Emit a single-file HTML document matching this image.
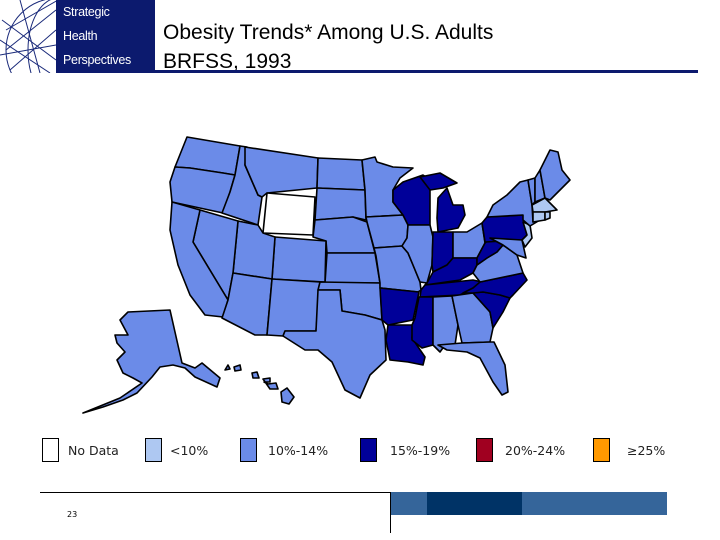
<!DOCTYPE html>
<html><head><meta charset="utf-8"><style>
body{margin:0;width:720px;height:540px;background:#fff;overflow:hidden;position:relative;font-family:"Liberation Sans",sans-serif}
.t{position:absolute;left:163px;font-size:21px;color:#000;line-height:1}
.lg{position:absolute;font-family:"DejaVu Sans",sans-serif;font-size:12.5px;color:#222;top:443px}
.bx{position:absolute;top:438px;width:17px;height:24px;border:1px solid #000;box-sizing:border-box}
</style></head><body>
<div style="position:absolute;left:0;top:0;width:155px;height:73px">
<svg width="56" height="73" style="position:absolute;left:0;top:0">
<g fill="none" stroke="#1a2a7a" stroke-width="1"><circle cx="58" cy="50" r="52"/><ellipse cx="58" cy="50" rx="30" ry="52"/><path d="M6 30 L58 0 M6 50 L56 10 M10 70 L56 30 M0 40 L50 73 M2 20 L56 60 M20 0 L40 73 M0 55 L56 45"/></g></svg>
<div style="position:absolute;left:56px;top:0;width:99px;height:73px;background:#0c1a6e;color:#fff;font-size:12.5px;line-height:24px;padding-left:7px;box-sizing:border-box;letter-spacing:-0.3px">Strategic<br>Health<br>Perspectives</div>
</div>
<div class="t" style="top:22px">Obesity Trends* Among U.S. Adults</div>
<div class="t" style="top:51px">BRFSS, 1993</div>
<div style="position:absolute;left:155px;top:70px;width:543px;height:3px;background:#0c1a6e"></div>

<svg id="map" width="720" height="540" style="position:absolute;left:0;top:0"></svg>

<div class="bx" style="left:42px;background:#fff"></div>
<div class="lg" style="left:68px">No Data</div>
<div class="bx" style="left:145px;background:#aec8f2"></div>
<div class="lg" style="left:170px">&lt;10%</div>
<div class="bx" style="left:240px;background:#6b8be8"></div>
<div class="lg" style="left:268px">10%-14%</div>
<div class="bx" style="left:360px;background:#000099"></div>
<div class="lg" style="left:390px">15%-19%</div>
<div class="bx" style="left:476px;background:#a00020"></div>
<div class="lg" style="left:505px">20%-24%</div>
<div class="bx" style="left:593px;background:#ff9900"></div>
<div class="lg" style="left:627px">≥25%</div>

<div style="position:absolute;left:40px;top:492px;width:350px;height:40px;border-top:1px solid #000;border-right:1px solid #000"></div>
<div style="position:absolute;left:67px;top:510px;font-size:8px;font-family:'DejaVu Sans',sans-serif">23</div>
<div style="position:absolute;left:391px;top:492px;width:276px;height:23px;background:#35659a"></div>
<div style="position:absolute;left:427px;top:492px;width:95px;height:23px;background:#003366"></div>

<script>
const categories=["No Data","<10%","10%-14%","15%-19%","20%-24%",">=25%"];
const colors=["#ffffff","#aec8f2","#6b8be8","#000099","#a00020","#ff9900"];
const stateNames=["WA","OR","ID","MT","WY","ND","SD","NE","KS","CO","UT","NV","CA","AZ","NM","OK","TX","MN","IA","MO","AR","LA","WI","IL","MI","MIU","IN","OH","KY","TN","MS","AL","GA","FL","SC","NC","VA","WV","PA","MD","NJ","NY","VT","NH","ME","MA","CT","RI","AK","HI1","HI2","HI3","HI4","HI5"];
const stateCategory=[2,2,2,2,0,2,2,2,2,2,2,2,2,2,2,2,2,2,2,2,3,3,3,2,3,3,3,2,3,3,3,2,2,2,3,3,2,3,3,2,1,2,2,2,2,1,1,1,2,2,2,2,2,2];
const shapes={
WA:[[187,137],[240,146],[235,175],[223,173],[190,168],[175,167],[181,152]],
OR:[[175,167],[190,168],[223,173],[235,175],[230,192],[223,213],[172,202],[170,182]],
ID:[[240,146],[247,147],[245,165],[258,195],[262,197],[258,225],[222,213],[230,192],[235,175]],
MT:[[245,147],[318,158],[317,188],[267,193],[262,197],[258,195],[245,165]],
WY:[[267,193],[315,197],[313,235],[263,233]],
ND:[[318,158],[362,160],[365,190],[317,188]],
SD:[[317,188],[365,190],[366,220],[353,217],[315,220]],
NE:[[315,220],[353,217],[367,222],[375,253],[327,253],[326,241],[313,237]],
KS:[[327,253],[375,253],[380,283],[325,283]],
CO:[[275,237],[326,241],[325,282],[272,279]],
UT:[[238,221],[258,225],[263,233],[275,237],[272,279],[233,273]],
NV:[[200,210],[238,221],[233,273],[228,300],[193,242]],
CA:[[172,202],[200,210],[193,242],[228,300],[223,317],[205,315],[190,295],[178,265],[170,230]],
AZ:[[233,273],[272,279],[267,335],[255,335],[222,318],[228,300]],
NM:[[272,279],[320,282],[316,331],[285,331],[283,336],[267,335]],
OK:[[320,282],[380,283],[382,320],[365,315],[342,311],[340,290],[318,290]],
TX:[[318,290],[340,290],[342,311],[365,315],[382,320],[385,330],[386,360],[370,375],[360,398],[345,390],[332,362],[318,350],[305,350],[283,336],[285,331],[316,331]],
MN:[[362,160],[375,157],[377,162],[393,167],[413,168],[400,178],[393,190],[393,202],[403,215],[366,217],[365,190]],
IA:[[366,217],[403,215],[408,225],[407,238],[402,246],[374,248],[367,222]],
MO:[[374,248],[402,246],[408,253],[413,265],[420,282],[421,290],[418,292],[380,288],[380,283],[376,256]],
AR:[[380,288],[419,292],[413,320],[388,325],[382,320]],
LA:[[388,325],[413,325],[412,338],[425,357],[423,365],[408,362],[390,360],[386,340]],
WI:[[393,190],[403,182],[423,175],[435,183],[430,190],[430,208],[430,225],[408,225],[403,215],[393,202]],
IL:[[408,225],[430,225],[433,237],[432,265],[427,283],[420,282],[413,265],[408,253],[402,246],[407,238]],
MI:[[437,218],[438,198],[447,188],[453,205],[463,205],[465,215],[458,228],[438,232]],
MIU:[[420,177],[440,173],[457,183],[443,188],[430,190]],
IN:[[433,232],[453,232],[453,258],[447,265],[433,272],[432,265]],
OH:[[453,232],[467,232],[482,223],[485,243],[477,258],[470,258],[453,258]],
KY:[[433,272],[447,265],[453,258],[470,258],[477,258],[477,265],[473,273],[460,280],[425,285],[427,283]],
TN:[[425,285],[473,280],[482,282],[473,288],[460,295],[420,297],[421,290]],
MS:[[419,297],[433,297],[433,345],[422,348],[412,340],[412,325],[415,318]],
AL:[[433,297],[452,296],[458,325],[455,345],[445,345],[440,352],[433,345]],
GA:[[452,296],[473,293],[490,312],[493,328],[490,342],[462,343],[458,325]],
FL:[[438,345],[462,343],[490,342],[494,342],[505,365],[508,392],[502,395],[493,382],[480,358],[467,352],[447,350]],
SC:[[473,293],[483,292],[500,295],[510,298],[503,312],[493,328],[490,312]],
NC:[[480,282],[523,273],[527,280],[513,295],[510,298],[500,295],[483,292],[473,293],[463,293],[473,288]],
VA:[[473,273],[477,265],[487,258],[497,252],[503,245],[517,255],[523,273],[480,282]],
WV:[[477,258],[485,243],[490,238],[503,245],[497,252],[487,258],[477,265]],
PA:[[482,223],[487,217],[523,215],[527,235],[522,240],[485,242]],
MD:[[490,238],[522,240],[526,258],[517,255],[503,245]],
NJ:[[523,222],[530,225],[532,238],[525,247],[522,240],[527,235]],
NY:[[487,217],[493,205],[507,195],[520,182],[528,180],[532,205],[533,222],[540,220],[530,226],[523,220],[523,215]],
VT:[[528,180],[535,178],[535,202],[532,205]],
NH:[[535,178],[540,170],[545,198],[535,202]],
ME:[[540,170],[545,160],[550,150],[558,152],[562,170],[570,180],[550,200],[545,198]],
MA:[[532,205],[545,198],[552,205],[557,210],[545,212],[533,212]],
CT:[[533,212],[545,212],[545,220],[533,222]],
RI:[[545,212],[550,212],[550,218],[545,220]],
AK:[[128,312],[170,310],[182,363],[195,368],[202,363],[220,378],[217,387],[195,377],[185,368],[173,365],[160,367],[152,377],[137,393],[123,400],[103,407],[83,413],[120,398],[142,383],[133,378],[123,373],[117,360],[125,352],[117,343],[115,335],[128,335],[120,320]],
HI1:[[225,370],[228,365],[230,369]],
HI2:[[234,367],[240,365],[241,370],[235,371]],
HI3:[[252,373],[257,372],[259,378],[253,378]],
HI4:[[263,379],[270,378],[270,382],[264,382],[268,384],[276,383],[278,389],[270,389]],
HI5:[[281,392],[287,388],[294,397],[289,404],[282,402]]
};
const svg=document.getElementById('map');
const NS='http://www.w3.org/2000/svg';
stateNames.forEach((s,i)=>{
  const p=document.createElementNS(NS,'polygon');
  p.setAttribute('points',shapes[s].map(q=>q.join(',')).join(' '));
  p.setAttribute('fill',colors[stateCategory[i]]);
  p.setAttribute('stroke','#000');
  p.setAttribute('stroke-width','1.6');
  p.setAttribute('stroke-linejoin','round');
  
  
  svg.appendChild(p);
});
</script>
</body></html>
